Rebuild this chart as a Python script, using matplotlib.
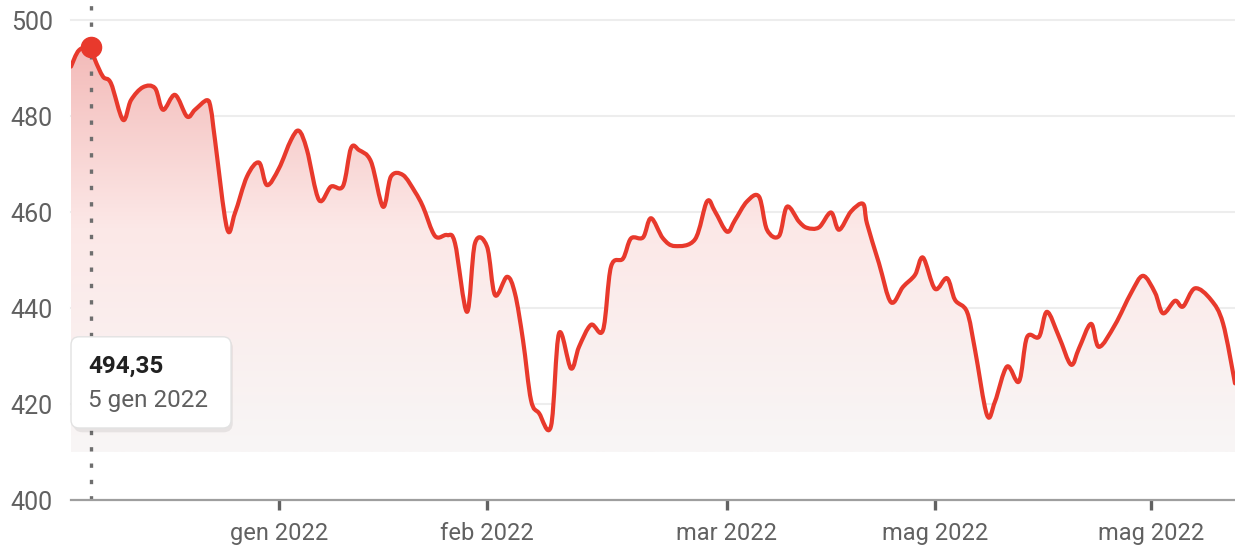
import numpy as np
import matplotlib.pyplot as plt
from matplotlib.patches import FancyBboxPatch, PathPatch
from matplotlib.path import Path

# sedute (indice) e prezzi
sessions = [0, 2, 5, 6, 8, 10, 13, 15, 18, 21, 23, 26, 29, 31, 34, 35, 36, 39, 41, 44,
            47, 49, 52, 55, 57, 59, 62, 65, 68, 70, 72, 75, 78, 80, 83, 86, 88, 91, 94, 96,
            99, 101, 104, 106, 109, 111, 113, 115, 117, 120, 122, 125, 127, 130, 133, 135,
            138, 140, 143, 145, 148, 151, 156, 159, 161, 164, 166, 169, 172, 174, 177, 179,
            182, 184, 187, 190, 192, 195, 198, 199, 202, 205, 208, 211, 213, 216, 219, 221,
            224, 226, 229, 231, 234, 237, 239, 242, 244, 247, 250, 252, 255, 257, 261, 265,
            268, 271, 273, 276, 278, 281, 285, 288, 291]
prices = [490.3, 493.7, 494.35, 491.7, 488.2, 486.8, 479.2, 483.3, 486.0, 485.8, 481.3, 484.4,
          479.9, 481.3, 483.3, 481.3, 475.0, 456.6, 459.8, 467.4, 470.3, 465.6, 469.1, 475.0,
          476.9, 472.9, 462.5, 465.3, 465.4, 473.3, 472.9, 470.5, 461.1, 467.4, 467.7, 464.2,
          461.1, 455.0, 455.2, 453.5, 439.2, 453.5, 452.8, 442.7, 446.5, 443.0, 433.3, 420.8,
          418.1, 415.4, 434.7, 427.4, 431.9, 436.5, 435.4, 448.6, 450.3, 454.5, 454.7, 458.7,
          454.5, 452.9, 454.3, 462.2, 460.1, 455.9, 458.3, 462.2, 463.2, 456.3, 455.0, 461.1,
          458.0, 456.7, 456.8, 459.9, 456.3, 460.1, 461.7, 457.6, 449.3, 441.2, 444.4, 446.9,
          450.5, 444.0, 446.2, 441.7, 439.2, 431.3, 417.7, 420.5, 427.8, 424.7, 433.9, 434.0,
          439.2, 434.0, 428.2, 431.6, 436.7, 431.9, 436.5, 443.1, 446.7, 443.2, 438.9, 441.5,
          440.3, 444.1, 441.7, 436.8, 424.3]

tick_pos = [52, 104, 164, 216, 270]
tick_labels = ["gen 2022", "feb 2022", "mar 2022", "mag 2022", "mag 2022"]
y_ticks = [400, 420, 440, 460, 480, 500]

sel_session = 5
sel_price = 494.35
sel_value_text = "494,35"
sel_date_text = "5 gen 2022"

RED = "#e8392c"
GRAY_TXT = "#616161"


def smooth_path(x, y):
    # curva morbida (Catmull-Rom -> Bezier) che passa per i punti dati
    pts = np.column_stack([x, y]).astype(float)
    n = len(pts)
    verts = [pts[0]]
    codes = [Path.MOVETO]
    for i in range(n - 1):
        p0 = pts[max(i - 1, 0)]
        p1 = pts[i]
        p2 = pts[i + 1]
        p3 = pts[min(i + 2, n - 1)]
        c1 = p1 + (p2 - p0) / 6.0
        c2 = p2 - (p3 - p1) / 6.0
        verts += [c1, c2, p2]
        codes += [Path.CURVE4] * 3
    return verts, codes


plt.rcParams['font.family'] = ['Roboto', 'DejaVu Sans']

fig = plt.figure(figsize=(12.35, 5.58), dpi=100)
ax = fig.add_axes([71 / 1235, 58 / 558, 1164 / 1235, 480 / 558])
ax.set_xlim(sessions[0], sessions[-1])
ax.set_ylim(400, 500)

# griglia orizzontale
for y in y_ticks[1:]:
    ax.axhline(y, color="#ededed", lw=1.5, zorder=0, clip_on=False)

verts, codes = smooth_path(sessions, prices)

# riempimento sfumato sotto la curva
fill_bottom = 410
fill_verts = verts + [(sessions[-1], fill_bottom), (sessions[0], fill_bottom), verts[0]]
fill_codes = codes + [Path.LINETO, Path.LINETO, Path.CLOSEPOLY]
fill_path = Path(fill_verts, fill_codes)

t = np.linspace(0, 1, 256)[:, None]          # 0 = alto, 1 = basso
top_c = np.array([243, 186, 184]) / 255
mid_c = np.array([252, 232, 231]) / 255
bot_c = np.array([248, 246, 246]) / 255
w = np.clip(t / 0.45, 0, 1)
c1 = top_c * (1 - w) + mid_c * w
w2 = np.clip((t - 0.45) / 0.55, 0, 1)
grad = np.where(t < 0.45, c1, mid_c * (1 - w2) + bot_c * w2)
img = ax.imshow(grad[:, None, :].repeat(2, axis=1), aspect="auto",
                extent=[sessions[0], sessions[-1], fill_bottom, 495], zorder=1,
                interpolation="bilinear")
img.set_clip_path(fill_path, transform=ax.transData)

# linea del prezzo
line = PathPatch(Path(verts, codes), facecolor="none", edgecolor=RED, lw=3,
                 joinstyle="round", capstyle="round", zorder=3)
ax.add_patch(line)

# linea verticale tratteggiata e punto selezionato
ax.plot([sel_session, sel_session], [400, 503.5], color="#6e6e6e", lw=2.4,
        linestyle=(0, (1.3, 3.6)), dash_capstyle="butt", clip_on=False, zorder=2)
ax.plot(sel_session, sel_price, "o", ms=14.5, color=RED, mec=RED, zorder=5, clip_on=False)

# tooltip
shadow = FancyBboxPatch((0.002, 0.141), 0.137, 0.195, boxstyle="round,pad=0,rounding_size=0.008",
                        transform=ax.transAxes, facecolor="#000000", alpha=0.07,
                        edgecolor="none", zorder=6, clip_on=False, mutation_aspect=2.4)
ax.add_patch(shadow)
box = FancyBboxPatch((0.0, 0.15), 0.1375, 0.19, boxstyle="round,pad=0,rounding_size=0.007",
                     transform=ax.transAxes, facecolor="white", edgecolor="#e2e2e2",
                     lw=1, zorder=7, clip_on=False, mutation_aspect=2.4)
ax.add_patch(box)
ax.text(0.0146, 0.278, sel_value_text, transform=ax.transAxes, fontsize=17.5,
        fontweight="bold", color="#212121", va="center", ha="left", zorder=8)
ax.text(0.0146, 0.207, sel_date_text, transform=ax.transAxes, fontsize=17.5,
        color="#5f5f5f", va="center", ha="left", zorder=8)

# assi
for s in ["top", "right", "left"]:
    ax.spines[s].set_visible(False)
ax.spines["bottom"].set_color("#9e9e9e")
ax.spines["bottom"].set_linewidth(1.6)
ax.spines["bottom"].set_zorder(4)

ax.set_yticks(y_ticks)
ax.set_yticklabels([str(v) for v in y_ticks])
ax.tick_params(axis="y", length=0, pad=13, labelsize=18, labelcolor=GRAY_TXT)

ax.set_xticks(tick_pos)
ax.set_xticklabels(tick_labels)
ax.tick_params(axis="x", length=7, width=2.4, color="#616161", pad=9,
               labelsize=17, labelcolor=GRAY_TXT)

fig.savefig("out.png", dpi=100, facecolor="white")
